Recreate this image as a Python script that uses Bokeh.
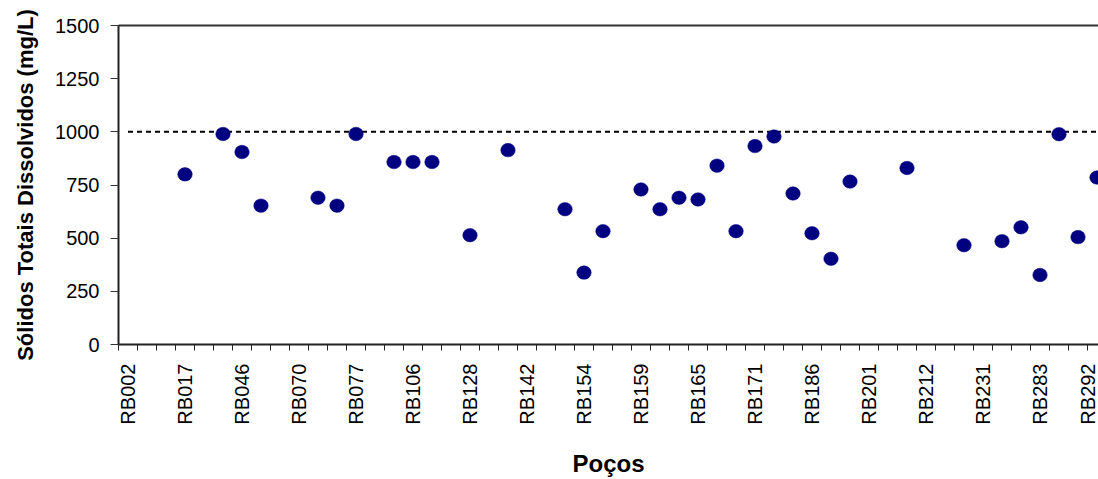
import math
from bokeh.plotting import figure
from bokeh.models import Range1d, FixedTicker, LinearAxis
from bokeh.embed import file_html
from bokeh.resources import INLINE

# ---- data ----
n_wells = 52  # categories visible in the picture (chart is cut on the right)
label_index = [0, 3, 6, 9, 12, 15, 18, 21, 24, 27, 30, 33, 36, 39, 42, 45, 48, 51]
tick_labels = ["RB002", "RB017", "RB046", "RB070", "RB077", "RB106", "RB128",
               "RB142", "RB154", "RB159", "RB165", "RB171", "RB186", "RB201",
               "RB212", "RB231", "RB283", "RB292"]
well_index = [3, 5, 6, 7, 10, 11, 12, 14, 15, 16, 18, 20, 23, 24, 25, 27, 28,
              29, 30, 31, 32, 33, 34, 35, 36, 37, 38, 41, 44, 46, 47, 48, 49,
              50, 51]
tds_values = [800, 990, 905, 653, 690, 653, 990, 858, 858, 858, 514, 914, 636,
              338, 533, 729, 636, 690, 682, 841, 533, 933, 978, 710, 523, 403,
              766, 830, 467, 486, 551, 327, 989, 505, 785]
limit_value = 1000
y_ticks = [0, 250, 500, 750, 1000, 1250, 1500]

FONT = "Liberation Sans"

x_end = 980 / 19.0  # frame shows ~51.6 categories before the window edge

p = figure(width=1098, height=479, output_backend="svg", toolbar_location=None,
           x_range=Range1d(0, x_end), y_range=Range1d(0, 1500),
           min_border_left=118, min_border_right=0, min_border_top=25,
           min_border_bottom=134, outline_line_color=None,
           background_fill_color="white", border_fill_color="white")
p.xgrid.visible = False
p.ygrid.visible = False

# limit line (dashed) across every category centre
lim_x = [i + 0.5 for i in range(n_wells)]
lim_y = [limit_value] * n_wells
p.line(lim_x, lim_y, line_color="black", line_width=2, line_dash="5 4")

# points
xs = [i + 0.5 for i in well_index]
p.ellipse(x=xs, y=tds_values, width=14.5, height=13.5,
          width_units="screen", height_units="screen",
          fill_color="#000080", line_color="#000080", line_width=0.5)

# x axis: labels at centres, ticks between categories
xa = p.xaxis[0]
xa.ticker = FixedTicker(ticks=[i + 0.5 for i in label_index],
                        minor_ticks=list(range(n_wells + 1)))
xa.major_label_overrides = {i + 0.5: t for i, t in zip(label_index, tick_labels)}
xa.major_tick_out = 0
xa.major_tick_in = 0
xa.minor_tick_out = 6
xa.minor_tick_in = 0
xa.minor_tick_line_color = "#222222"
xa.minor_tick_line_width = 1
xa.major_label_orientation = math.pi / 2
xa.major_label_text_font = FONT
xa.major_label_text_font_size = "20px"
xa.major_label_text_color = "black"
xa.major_label_standoff = 13
xa.axis_line_color = "#222222"
xa.axis_line_width = 2
xa.axis_label = "Poços"
xa.axis_label_text_font = FONT
xa.axis_label_text_font_style = "bold"
xa.axis_label_text_font_size = "24px"
xa.axis_label_text_color = "black"
xa.axis_label_standoff = 22

ya = p.yaxis[0]
ya.ticker = FixedTicker(ticks=y_ticks)
ya.major_tick_out = 8
ya.major_tick_in = 0
ya.minor_tick_out = 0
ya.minor_tick_in = 0
ya.major_tick_line_color = "#333333"
ya.major_tick_line_width = 1
ya.axis_line_color = "#222222"
ya.axis_line_width = 2
ya.major_label_text_font = FONT
ya.major_label_text_font_size = "20px"
ya.major_label_text_color = "black"
ya.major_label_standoff = 11
ya.axis_label = "Sólidos Totais Dissolvidos (mg/L)"
ya.axis_label_text_font = FONT
ya.axis_label_text_font_style = "bold"
ya.axis_label_text_font_size = "22px"
ya.axis_label_text_color = "black"
ya.axis_label_standoff = 14

# top border line of the plot area
top = LinearAxis(ticker=FixedTicker(ticks=[]), major_tick_out=0, major_tick_in=0,
                 minor_tick_out=0, minor_tick_in=0, major_label_text_font_size="0px",
                 axis_line_color="#333333", axis_line_width=2, major_label_standoff=0)
p.add_layout(top, "above")

open("out.html", "w").write(file_html(p, INLINE))
